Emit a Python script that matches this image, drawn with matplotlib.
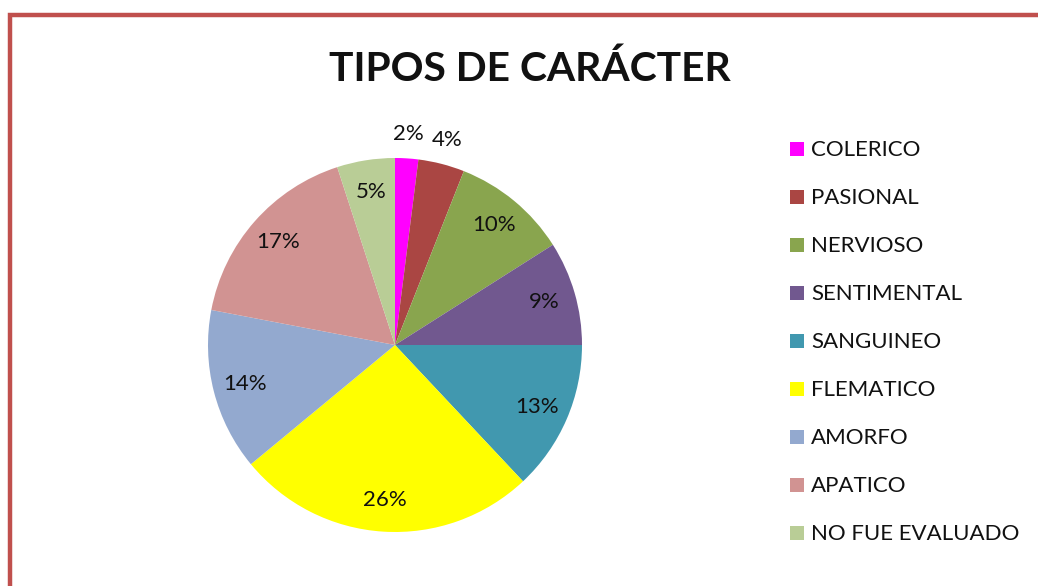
import numpy as np
import matplotlib
matplotlib.use("Agg")
import matplotlib.pyplot as plt
from matplotlib.patches import Rectangle

categories = ["COLERICO", "PASIONAL", "NERVIOSO", "SENTIMENTAL", "SANGUINEO",
              "FLEMATICO", "AMORFO", "APATICO", "NO FUE EVALUADO"]
values = [2, 4, 10, 9, 13, 26, 14, 17, 5]
colors = ["#FF00FF", "#AA4643", "#89A54E", "#71588F", "#4198AF",
          "#FFFF00", "#93A9CF", "#D19392", "#B9CD96"]
title = "TIPOS DE CARÁCTER"

W, H = 1038, 586
fig = plt.figure(figsize=(W / 100, H / 100), dpi=100)
plt.rcParams['font.family'] = ['Lato', 'DejaVu Sans']

# chart frame
fig.add_artist(Rectangle((10 / W, -0.1), 1.2, (H - 15) / H + 0.1,
                         transform=fig.transFigure, fill=False,
                         edgecolor="#C0504D", linewidth=3.2))

cx, cy, r = 395, 345, 187
ax = fig.add_axes([(cx - r) / W, (H - cy - r) / H, 2 * r / W, 2 * r / H])
wedges, _ = ax.pie(values, colors=colors, startangle=90, counterclock=False,
                   radius=1.0, wedgeprops=dict(linewidth=0))
ax.set_xlim(-1, 1)
ax.set_ylim(-1, 1)
ax.set_aspect("equal")
ax.axis("off")

# percentage labels: small slices outside, others inside
total = sum(values)
for w, v in zip(wedges, values):
    ang = np.deg2rad((w.theta1 + w.theta2) / 2)
    d = 1.13 if v / total < 0.05 else 0.83
    ax.text(d * np.cos(ang), d * np.sin(ang), f"{round(100 * v / total)}%",
            ha="center", va="center", fontsize=16, color="#111111")

fig.text(530 / W, 1 - 69 / H, title, ha="center", va="center",
         fontsize=29.3, fontweight="bold", color="#111111")

# legend
for i, (name, c) in enumerate(zip(categories, colors)):
    y = 149 + 48 * i
    fig.add_artist(Rectangle((790 / W, 1 - (y + 7) / H), 14 / W, 14 / H,
                             transform=fig.transFigure, facecolor=c,
                             edgecolor="none"))
    fig.text(811 / W, 1 - (y + 1.5) / H, name, ha="left", va="center",
             fontsize=16, color="#111111")

fig.savefig("out.png", dpi=100)
